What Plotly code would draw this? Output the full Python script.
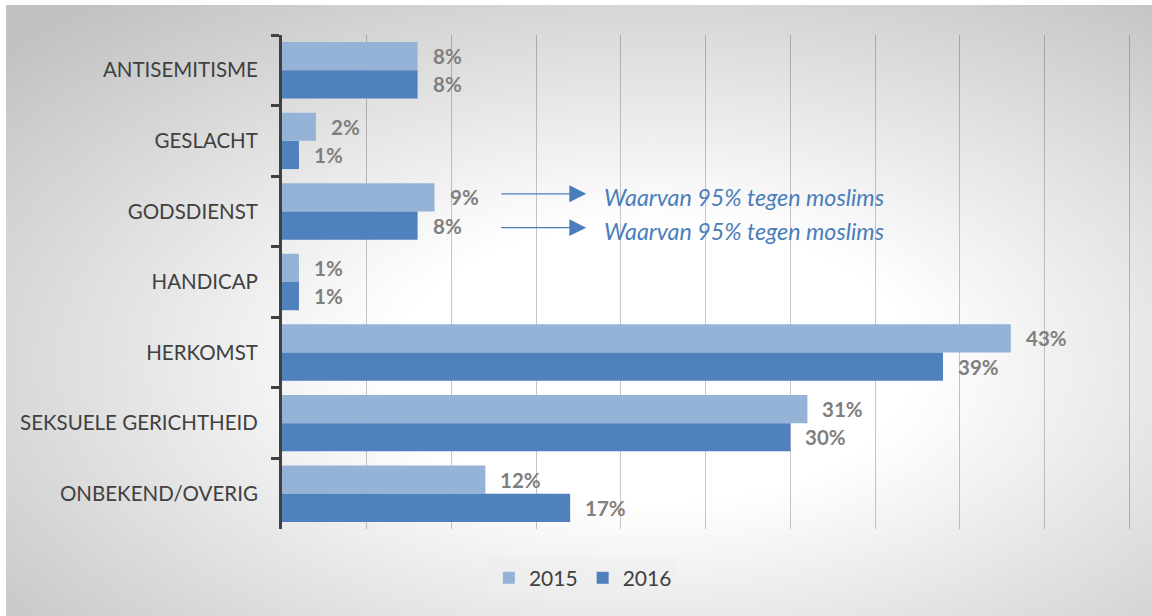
import base64
import plotly.graph_objects as go

categorieen = ["ANTISEMITISME", "GESLACHT", "GODSDIENST", "HANDICAP", "HERKOMST",
               "SEKSUELE GERICHTHEID", "ONBEKEND/OVERIG"]
jaren = ["2015", "2016"]
waarden_2015 = [8, 2, 9, 1, 43, 31, 12]
waarden_2016 = [8, 1, 8, 1, 39, 30, 17]
notitie = "Waarvan 95% tegen moslims"

kleuren = {"2015": "#95B3D7", "2016": "#4F81BD"}
FONT = "Lato"

# radial gradient background as svg
svg = (
    '<svg xmlns="http://www.w3.org/2000/svg" width="1146" height="611" preserveAspectRatio="none">'
    '<defs><radialGradient id="g" cx="0.56" cy="0.58" r="0.75">'
    '<stop offset="0" stop-color="#ffffff"/><stop offset="0.3" stop-color="#ffffff"/>'
    '<stop offset="1" stop-color="#c2c2c2"/></radialGradient></defs>'
    '<rect width="1146" height="611" fill="url(#g)"/></svg>'
)
svg_uri = "data:image/svg+xml;base64," + base64.b64encode(svg.encode()).decode()

fig = go.Figure()
for jaar, waarden in zip(jaren, [waarden_2015, waarden_2016]):
    fig.add_trace(go.Bar(
        y=categorieen, x=waarden, orientation="h", name=jaar,
        marker=dict(color=kleuren[jaar], line=dict(width=0)),
        hoverinfo="x+y",
    ))

annotaties = []
for i, cat in enumerate(categorieen):
    for waarden, dy in [(waarden_2015, -0.2), (waarden_2016, 0.2)]:
        annotaties.append(dict(
            x=waarden[i], y=i + dy, xref="x", yref="y", text=f"<b>{waarden[i]}%</b>",
            showarrow=False, xanchor="left", xshift=13,
            font=dict(family=FONT, size=20.5, color="#7f7f7f"),
        ))

# arrows + notes at GODSDIENST
i_god = categorieen.index("GODSDIENST")
for dy_pijl, dy_tekst in [(-0.25, -0.2), (0.23, 0.28)]:
    annotaties.append(dict(
        x=17.95, y=i_god + dy_pijl, ax=12.85, ay=i_god + dy_pijl, xref="x", yref="y",
        axref="x", ayref="y", text="", showarrow=True, arrowhead=2, arrowsize=2.6,
        arrowwidth=1.3, arrowcolor="#4a7ebb", standoff=0,
    ))
    annotaties.append(dict(
        x=18.9, y=i_god + dy_tekst, xref="x", yref="y", text=f"<i>{notitie}</i>",
        showarrow=False, xanchor="left",
        font=dict(family=FONT, size=23.3, color="#4a7ebb"),
    ))

fig.update_layout(
    width=1152, height=616,
    margin=dict(l=282, r=20, t=35, b=87),
    barmode="group", bargap=0.2, bargroupgap=0,
    paper_bgcolor="#ffffff", plot_bgcolor="rgba(0,0,0,0)",
    font=dict(family=FONT, color="#404040"),
    xaxis=dict(range=[0, 50.15], dtick=5, showticklabels=False, showgrid=True,
               gridcolor="rgba(0,0,0,0.22)", gridwidth=1, zeroline=False, showline=False),
    yaxis=dict(range=[6.5, -0.5], showline=True, linecolor="#404040", linewidth=3,
               ticks="outside", tickson="boundaries", ticklen=8, tickwidth=3, tickcolor="#404040",
               tickfont=dict(family=FONT, size=20.5, color="#404040"), ticklabelstandoff=17,
               showgrid=False, zeroline=False),
    legend=dict(orientation="h", x=0.354, xanchor="center", y=-0.058, yanchor="top",
                bgcolor="rgba(238,238,238,0.6)", font=dict(family=FONT, size=21, color="#404040"),
                itemwidth=30, traceorder="normal"),
    annotations=annotaties,
    images=[dict(source=svg_uri, xref="paper", yref="paper", x=-0.3247, y=1.0607,
                 sizex=1.36, sizey=1.25, sizing="stretch", layer="below",
                 xanchor="left", yanchor="top")],
)

fig.write_html("out.html", config={"displayModeBar": False},
               post_script="document.body.style.margin = '0'; document.body.style.overflow = 'hidden';")
